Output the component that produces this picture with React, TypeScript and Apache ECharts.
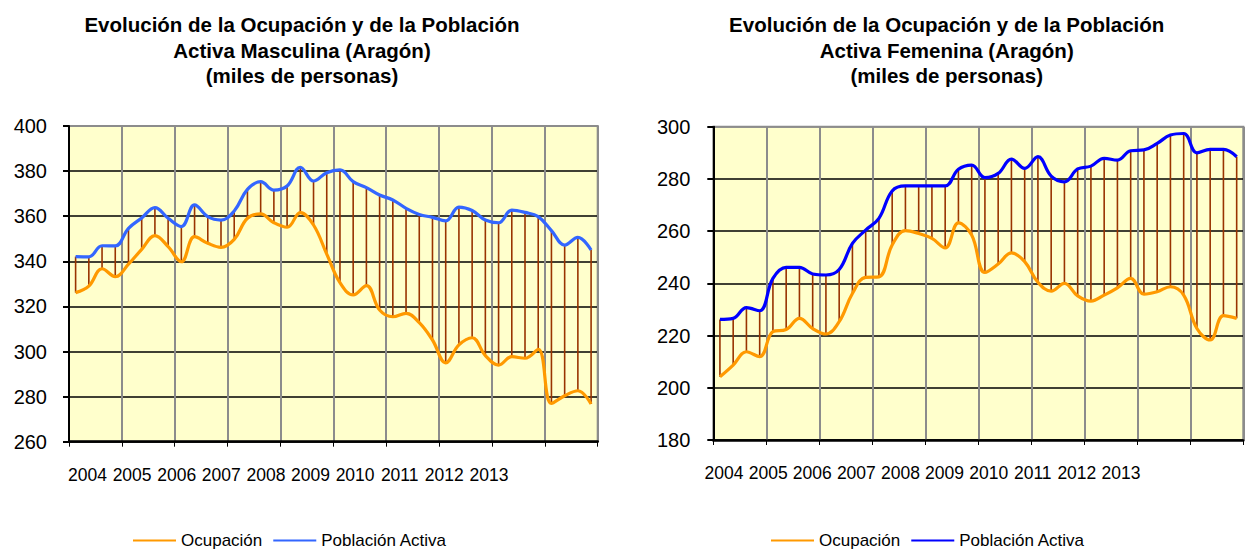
import React, { useEffect, useRef } from "react";
import * as echarts from "echarts";

const years = ["2004", "2005", "2006", "2007", "2008", "2009", "2010", "2011", "2012", "2013"];
const quarters = ["I", "II", "III", "IV"];
const categories = years.flatMap((y) => quarters.map((q) => `${q}-${y}`));

// Masculina (Aragón)
const ocupMasc = [
  326.1, 329.0, 336.7, 333.2,
  338.7, 345.3, 351.4, 346.5,
  339.8, 350.9, 348.0, 346.2,
  349.7, 359.1, 361.0, 357.1,
  355.1, 361.6, 356.1, 343.2,
  330.5, 325.1, 329.2, 318.4,
  315.4, 316.9, 312.8, 305.1,
  295.0, 302.9, 306.1, 298.2,
  294.0, 297.7, 297.0, 301.0,
  277.0, 280.4, 282.6, 276.7,
];
const activaMasc = [
  342.1, 342.0, 346.9, 346.8,
  354.6, 359.2, 363.8, 359.1,
  355.4, 365.0, 359.8, 358.3,
  362.3, 371.9, 375.3, 371.6,
  373.4, 381.7, 375.6, 379.3,
  380.5, 375.3, 372.7, 369.4,
  367.2, 363.5, 360.8, 359.5,
  357.9, 364.0, 362.5, 358.3,
  357.1, 362.7, 361.7, 359.8,
  353.6, 347.2, 350.6, 345.0,
];

// Femenina (Aragón)
const ocupFem = [
  204.2, 208.7, 213.8, 211.9,
  221.5, 222.3, 226.6, 222.7,
  220.6, 225.3, 236.1, 242.3,
  242.5, 254.7, 260.2, 259.1,
  257.2, 253.6, 263.2, 258.5,
  244.2, 247.4, 251.7, 248.3,
  240.4, 237.0, 240.0, 235.2,
  233.2, 235.5, 238.3, 241.9,
  235.9, 236.8, 238.7, 235.5,
  222.7, 218.3, 227.6, 226.6,
];
const activaFem = [
  226.2, 226.6, 230.7, 229.5,
  241.9, 246.1, 246.1, 243.6,
  243.2, 245.3, 255.3, 260.4,
  264.9, 275.4, 277.3, 277.3,
  277.3, 277.3, 283.7, 285.3,
  280.5, 282.1, 287.6, 284.0,
  288.5, 281.1, 278.9, 283.8,
  284.9, 287.9, 287.2, 290.8,
  291.1, 293.6, 296.8, 297.4,
  290.0, 291.3, 291.3, 288.5,
];

const titleMasc = "Evolución de la Ocupación y de la Población\nActiva Masculina (Aragón)\n(miles de personas)";
const titleFem = "Evolución de la Ocupación y de la Población\nActiva Femenina (Aragón)\n(miles de personas)";

const FONT = "'Liberation Sans', Arial, sans-serif";

type Cfg = {
  title: string;
  titleX: number;
  ocup: number[];
  activa: number[];
  activaColor: string;
  min: number;
  max: number;
  grid: { left: number; top: number; width: number; height: number };
  yearGrid: { left: number; width: number };
  labelMargin: number;
  legendLeft: number;
};

function buildOption(c: Cfg) {
  const splitColors: string[] = [];
  for (let v = c.min; v <= c.max; v += 20) splitColors.push(v === c.max ? "#8c8c8c" : "#000000");
  return {
    animation: false,
    graphic: [
      {
        type: "text",
        x: c.titleX,
        y: 12,
        style: {
          text: c.title,
          font: `bold 20.5px ${FONT}`,
          fill: "#000",
          textAlign: "center",
          textVerticalAlign: "top",
          lineHeight: 25.5,
        },
      },
    ],
    legend: {
      left: c.legendLeft,
      top: 532,
      padding: 0,
      icon: "rect",
      itemWidth: 43,
      itemHeight: 2,
      itemGap: 11,
      data: ["Ocupación", "Población Activa"],
      textStyle: { fontFamily: FONT, fontSize: 17, color: "#000" },
    },
    grid: [
      {
        left: c.grid.left,
        top: c.grid.top,
        width: c.grid.width,
        height: c.grid.height,
        show: true,
        backgroundColor: "#FFFFCC",
        borderColor: "#8c8c8c",
        borderWidth: 2,
      },
      {
        left: c.yearGrid.left,
        top: c.grid.top,
        width: c.yearGrid.width,
        height: c.grid.height,
        show: false,
      },
    ],
    xAxis: [
      {
        type: "category",
        gridIndex: 0,
        data: categories,
        boundaryGap: true,
        axisLine: { lineStyle: { color: "#000", width: 2.5 } },
        axisTick: { show: true, interval: 3, length: 5, lineStyle: { color: "#000", width: 1 } },
        axisLabel: { show: false },
        splitLine: { show: true, interval: 3, lineStyle: { color: "#8c8c8c", width: 2 } },
      },
      {
        type: "category",
        gridIndex: 1,
        data: years,
        boundaryGap: true,
        axisLine: { show: false },
        axisTick: { show: false },
        splitLine: { show: false },
        axisLabel: {
          interval: 0,
          margin: 24,
          fontFamily: FONT,
          fontSize: 17.5,
          color: "#000",
        },
      },
    ],
    yAxis: [
      {
        type: "value",
        gridIndex: 0,
        min: c.min,
        max: c.max,
        interval: 20,
        axisLine: { show: true, lineStyle: { color: "#000", width: 2 } },
        axisTick: { show: true, inside: false, length: 6, lineStyle: { color: "#000", width: 2 } },
        axisLabel: { margin: c.labelMargin, fontFamily: FONT, fontSize: 20, color: "#000" },
        splitLine: { show: true, lineStyle: { color: splitColors, width: 1.5 } },
      },
      { type: "value", gridIndex: 1, show: false },
    ],
    series: [
      {
        type: "custom",
        name: "drop",
        xAxisIndex: 0,
        yAxisIndex: 0,
        z: 1,
        silent: true,
        data: c.ocup.map((v, i) => [i, v, c.activa[i]]),
        encode: { x: 0, y: [1, 2] },
        renderItem: (_params: any, api: any) => {
          const p1 = api.coord([api.value(0), api.value(1)]);
          const p2 = api.coord([api.value(0), api.value(2)]);
          return {
            type: "line",
            shape: { x1: p1[0], y1: p1[1], x2: p2[0], y2: p2[1] },
            style: { stroke: "#993300", lineWidth: 1.6 },
          };
        },
      },
      {
        type: "line",
        name: "Ocupación",
        xAxisIndex: 0,
        yAxisIndex: 0,
        data: c.ocup,
        smooth: 0.4,
        symbol: "none",
        z: 3,
        lineStyle: { color: "#FF9900", width: 3.2 },
        itemStyle: { color: "#FF9900" },
      },
      {
        type: "line",
        name: "Población Activa",
        xAxisIndex: 0,
        yAxisIndex: 0,
        data: c.activa,
        smooth: 0.4,
        symbol: "none",
        z: 3,
        lineStyle: { color: c.activaColor, width: 3.2 },
        itemStyle: { color: c.activaColor },
      },
    ],
  };
}

function Chart({ cfg, style }: { cfg: Cfg; style: React.CSSProperties }) {
  const ref = useRef<HTMLDivElement>(null);
  useEffect(() => {
    if (!ref.current) return;
    const chart = echarts.init(ref.current, null, { renderer: "svg" });
    chart.setOption(buildOption(cfg) as any);
    return () => chart.dispose();
  }, []);
  return <div ref={ref} style={style} />;
}

const leftCfg: Cfg = {
  title: titleMasc,
  titleX: 302,
  ocup: ocupMasc,
  activa: activaMasc,
  activaColor: "#3366FF",
  min: 260,
  max: 400,
  grid: { left: 69, top: 126, width: 528.7, height: 315.7 },
  yearGrid: { left: 65.2, width: 446 },
  labelMargin: 22,
  legendLeft: 133,
};

const rightCfg: Cfg = {
  title: titleFem,
  titleX: 946.7 - 624,
  ocup: ocupFem,
  activa: activaFem,
  activaColor: "#0000FF",
  min: 180,
  max: 300,
  grid: { left: 89.3, top: 126.7, width: 530, height: 313.3 },
  yearGrid: { left: 78, width: 441 },
  labelMargin: 23,
  legendLeft: 147,
};

export default function App() {
  return (
    <div style={{ position: "fixed", left: 0, top: 0, width: 1249, height: 549, background: "#fff" }}>
      <Chart cfg={leftCfg} style={{ position: "absolute", left: 0, top: 0, width: 624, height: 549 }} />
      <Chart cfg={rightCfg} style={{ position: "absolute", left: 624, top: 0, width: 625, height: 549 }} />
    </div>
  );
}
